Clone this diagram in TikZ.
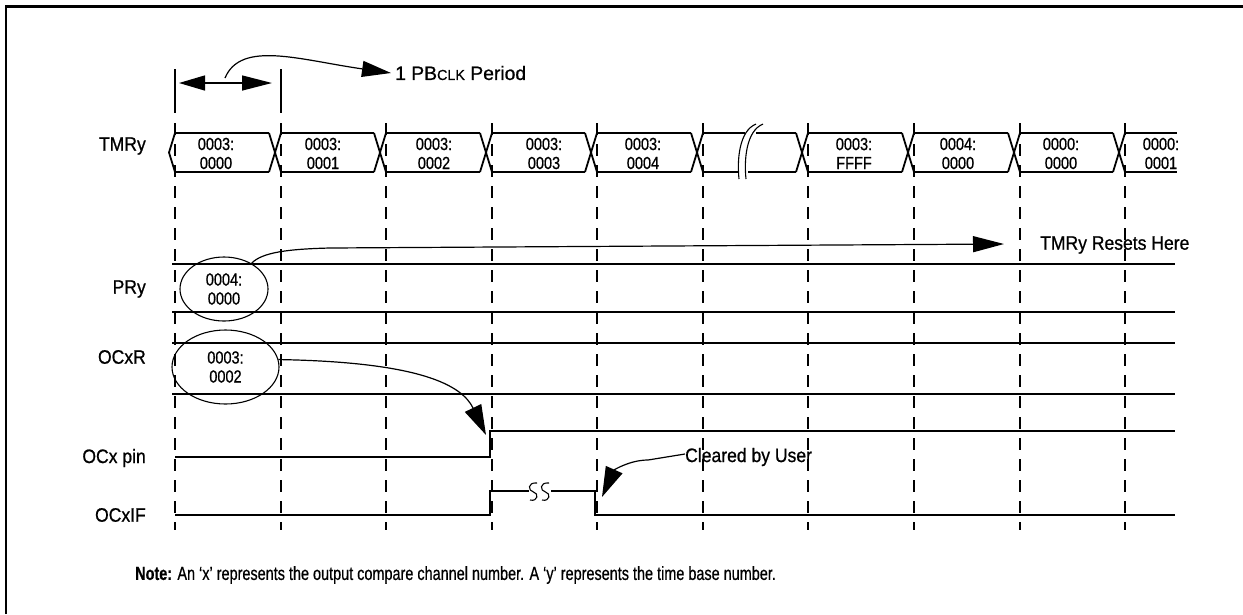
\documentclass[tikz,border=0pt]{standalone}
\usepackage{fontspec}
\setmainfont{Liberation Sans}
\newfontfamily\lblfont{Liberation Sans}[FakeStretch=0.9,FakeBold=0.8]
\newfontfamily\perfont{Liberation Sans}[FakeStretch=0.99,FakeBold=0.8]
\newfontfamily\numfont{Liberation Sans}[FakeStretch=0.83,FakeBold=0.8]
\newfontfamily\notefont{Liberation Sans}[FakeStretch=0.76,FakeBold=0.6]
\usetikzlibrary{arrows.meta,shapes.geometric}

\begin{document}
\begin{tikzpicture}[x=1pt,y=-1pt,
  lbl/.style={font=\lblfont\fontsize{19.5}{21}\selectfont, inner sep=0pt},
  num/.style={font=\numfont\fontsize{17.5}{19}\selectfont, align=center, inner sep=0pt},
  oval/.style={ellipse, draw, line width=1.1pt, inner sep=0pt},
  rowline/.style={line width=2.3pt},
  sig/.style={line width=2.3pt},
  busline/.style={line width=1.8pt},
  gridline/.style={line width=1.3pt, dash pattern=on 12pt off 9pt},
  pointer/.style={line width=1.2pt, -{Triangle[length=31pt,width=16pt]}},
  frame/.style={line width=2.6pt}
]
\useasboundingbox (0,0) rectangle (1243,614);

% outer frame
\draw[frame] (6,614) -- (6,6.5) -- (1243,6.5);

% clock-period grid
\foreach \d in {175,281,386,492,597,703,808,914,1020,1125}
  \draw[gridline] (\d,123) -- (\d,530);

% one-period marker
\draw[line width=2pt] (175,69) -- (175,113) (281,69) -- (281,113);
\coordinate (pl) at (179,83);
\coordinate (pr) at (272,83);
\draw[line width=1.4pt, {Triangle[length=26pt,width=15pt]}-{Triangle[length=30pt,width=15pt]}] (pl) -- (pr);
\coordinate (pm) at (225,78);
\node[inner sep=0pt, font=\perfont\fontsize{19.5}{21}\selectfont, anchor=west] (per) at (395,73)
  {1 PB{\fontsize{14.5}{15}\selectfont CLK} Period};
\draw[pointer, -{Triangle[length=29pt,width=16pt]}] (pm) .. controls (241,40) and (300,60) .. ([xshift=-4pt]per.west);

% row labels
\node[lbl, anchor=east] (ltmr) at (146,146) {TMRy};
\node[lbl, anchor=east] (lpr)  at (146,289) {PRy};
\node[lbl, anchor=east] (locr) at (146,357) {OCxR};
\node[lbl, anchor=east] (lpin) at (146,458) {OCx pin};
\node[lbl, anchor=east] (lif)  at (146,515) {OCxIF};

% TMRy bus
\def\bt{133}
\def\bb{172}
\draw[busline] (175,\bt) -- (169,152.5) -- (175,\bb);
\foreach \d in {281,386,492,597,703,808,914,1020,1125}
  \draw[busline] (\d-12,\bt) -- (\d,\bb) (\d-12,\bb) -- (\d,\bt);
\foreach \a/\b in {175/269,281/374,386/480,492/585,597/691,808/902,914/1008,1020/1113}
  \draw[busline] (\a,\bt) -- (\b,\bt) (\a,\bb) -- (\b,\bb);
\draw[busline] (1125,\bt) -- (1177,\bt) (1125,\bb) -- (1177,\bb);
% skipped span
\draw[busline] (703,\bt) -- (745,\bt) (703,\bb) -- (739,\bb)
               (756,\bt) -- (796,\bt) (748,\bb) -- (796,\bb);
\draw[line width=1.1pt] (756,124) .. controls (739,131) and (737,160) .. (739,179);
\draw[line width=1.1pt] (763,124) .. controls (746,131) and (744,160) .. (746,179);

% TMRy values
\foreach \x/\hi/\lo [count=\i] in {216/0003:/0000, 323/0003:/0001, 434/0003:/0002,
    544/0003:/0003, 643/0003:/0004, 854/0003:/FFFF, 958/0004:/0000,
    1061/0000:/0000, 1161/0000:/0001}
  \node[num] (v\i) at (\x,153.5) {\hi\\\lo};

% PRy and OCxR registers
\draw[rowline] (172,264) -- (1175,264) (172,312) -- (1175,312);
\draw[rowline] (172,343) -- (1175,343) (172,394) -- (1175,394);
\node[oval, num, minimum width=88pt, minimum height=64pt] (pry) at (224,289) {0004:\\0000};
\node[oval, num, minimum width=107pt, minimum height=74pt] (ocr) at (225.5,367) {0003:\\0002};

% TMRy reset annotation
\node[lbl, anchor=west] (rst) at (1040,245) {TMRy Resets Here};
\coordinate (rtip) at (1004,244);
\draw[pointer] (pry.43) .. controls (262,252) and (290,249) .. (330,248) -- (rtip);

% OCx pin
\coordinate (rise) at (490,431);
\draw[sig] (175,457) -- (490,457) -- (rise) -- (517,431);
\draw[line width=1.2pt] (517,431) -- (1175,431);
\draw[pointer, -{Triangle[length=30pt,width=18pt]}] (ocr.8) .. controls (420,362) and (462,385) .. ([shift={(-4pt,-4pt)}]rise);

% OCxIF
\coordinate (clrpt) at (595,491);
\draw[sig] (175,515) -- (490,515) -- (490,491) -- (529,491);
\draw[sig] (551,491) -- (clrpt) -- (595,515) -- (1175,515);
\draw[line width=1.1pt] (537,483) .. controls (527,482) and (528,491) .. (533.5,492)
                                .. controls (539,493) and (538,502) .. (530,500);
\draw[line width=1.1pt] (549,483) .. controls (539,482) and (540,491) .. (545.5,492)
                                .. controls (551,493) and (550,502) .. (542,500);

% cleared annotation
\node[lbl, anchor=west] (clr) at (685,457) {Cleared by User};
\draw[pointer, -{Triangle[length=30pt,width=18pt]}] ([yshift=3pt]clr.west) -- (648,460) .. controls (630,460) and (614,470) .. ([shift={(7pt,-6pt)}]clrpt);

% note
\node[anchor=west, inner sep=0pt, font=\notefont\fontsize{19}{21}\selectfont] (note) at (135,575)
  {\textbf{Note:} An ‘x’ represents the output compare channel number. A ‘y’ represents the time base number.};
\end{tikzpicture}
\end{document}
